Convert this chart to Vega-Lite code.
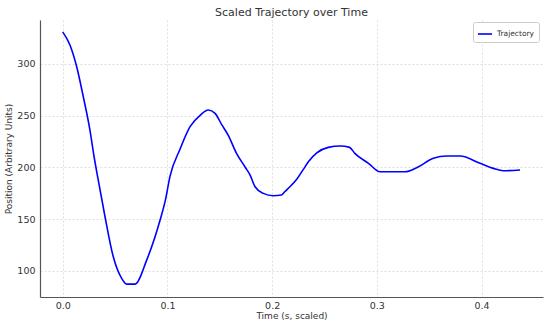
{
  "$schema": "https://vega.github.io/schema/vega-lite/v6.json",
  "autosize": "none",
  "width": 503,
  "height": 277,
  "padding": {"left": 40, "top": 20, "right": 7, "bottom": 29},
  "background": "white",
  "title": {"text": "Scaled Trajectory over Time", "font": "DejaVu Sans", "fontSize": 11, "fontWeight": "normal", "color": "#333333", "offset": 2, "anchor": "middle"},
  "config": {
    "view": {"stroke": null},
    "axis": {"labelFont": "DejaVu Sans", "titleFont": "DejaVu Sans", "labelFontSize": 9.5, "titleFontSize": 9, "titleFontWeight": "normal", "labelColor": "#333333", "titleColor": "#333333", "domainColor": "#555555", "domainWidth": 1.2, "tickSize": 0, "gridColor": "#d8d8d8", "gridDash": [2, 2], "gridWidth": 0.8}
  },
  "data": {"values": [
    {"t": 0.000, "v": 331},
    {"t": 0.007, "v": 318},
    {"t": 0.0134, "v": 297},
    {"t": 0.0197, "v": 268},
    {"t": 0.026, "v": 236},
    {"t": 0.030, "v": 210},
    {"t": 0.0335, "v": 190},
    {"t": 0.0404, "v": 152.2},
    {"t": 0.0483, "v": 113.5},
    {"t": 0.0563, "v": 92.6},
    {"t": 0.0611, "v": 87.1},
    {"t": 0.069, "v": 87.1},
    {"t": 0.0802, "v": 110.3},
    {"t": 0.093, "v": 149},
    {"t": 0.098, "v": 168},
    {"t": 0.1025, "v": 191.5},
    {"t": 0.112, "v": 217.5},
    {"t": 0.1216, "v": 239.3},
    {"t": 0.1315, "v": 250.6},
    {"t": 0.139, "v": 255.4},
    {"t": 0.1455, "v": 252.2},
    {"t": 0.152, "v": 241},
    {"t": 0.158, "v": 231.2},
    {"t": 0.166, "v": 213.5},
    {"t": 0.174, "v": 200.6},
    {"t": 0.179, "v": 192.5},
    {"t": 0.1837, "v": 181.2},
    {"t": 0.1916, "v": 174.8},
    {"t": 0.201, "v": 172.5},
    {"t": 0.209, "v": 173.2},
    {"t": 0.212, "v": 176.4},
    {"t": 0.217, "v": 181.2},
    {"t": 0.2235, "v": 188.5},
    {"t": 0.2298, "v": 198},
    {"t": 0.2346, "v": 205.4},
    {"t": 0.2426, "v": 214},
    {"t": 0.2537, "v": 219.3},
    {"t": 0.265, "v": 220.6},
    {"t": 0.274, "v": 219.3},
    {"t": 0.279, "v": 213.5},
    {"t": 0.292, "v": 203.9},
    {"t": 0.303, "v": 195.7},
    {"t": 0.327, "v": 195.7},
    {"t": 0.338, "v": 199.6},
    {"t": 0.354, "v": 208.7},
    {"t": 0.3668, "v": 210.9},
    {"t": 0.3795, "v": 210.9},
    {"t": 0.3986, "v": 203.9},
    {"t": 0.4113, "v": 199},
    {"t": 0.4208, "v": 196.7},
    {"t": 0.4368, "v": 197.4}
  ]},
  "mark": {"type": "line", "strokeWidth": 1.6, "interpolate": "monotone"},
  "encoding": {
    "x": {"field": "t", "type": "quantitative", "title": "Time (s, scaled)", "scale": {"domain": [-0.0217, 0.4587], "nice": false, "zero": false},
      "axis": {"values": [0, 0.1, 0.2, 0.3, 0.4], "format": ".1f", "labelPadding": 3, "titlePadding": 2}},
    "y": {"field": "v", "type": "quantitative", "title": "Position (Arbitrary Units)", "scale": {"domain": [74.6, 342.5], "nice": false, "zero": false},
      "axis": {"values": [100, 150, 200, 250, 300], "labelPadding": 5, "titlePadding": 3}},
    "color": {"datum": "Trajectory", "type": "nominal", "scale": {"range": ["#0000ff"]},
      "legend": {"title": null, "orient": "none", "legendX": 433, "legendY": 2, "symbolType": "stroke", "symbolStrokeWidth": 1.6, "symbolSize": 200, "labelFont": "DejaVu Sans", "labelFontSize": 7.5, "labelColor": "#333333", "strokeColor": "#cccccc", "fillColor": "white", "padding": 4, "cornerRadius": 2}}
  }
}
